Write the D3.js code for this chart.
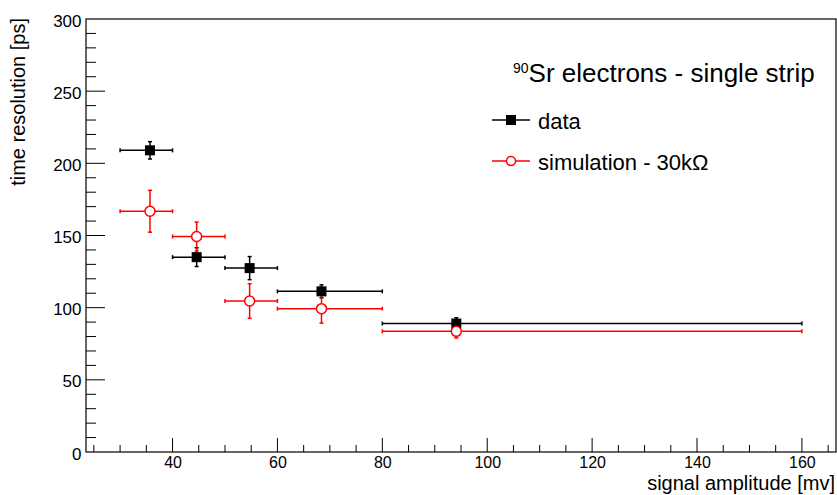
<!DOCTYPE html>
<html>
<head>
<meta charset="utf-8">
<script src="https://cdn.jsdelivr.net/npm/d3@7"></script>
<style>
  body { margin: 0; background: #fff; }
  text { font-family: "Liberation Sans", Arial, sans-serif; }
</style>
</head>
<body>
<svg id="chart"></svg>
<script>
// bins in signal amplitude [mV]
var binLow  = [30, 40, 50, 60, 80];
var binHigh = [40, 50, 60, 80, 160];

// measured data
var dataX   = [35.7, 44.6, 54.7, 68.4, 94.1];
var dataY   = [209, 135, 127.4, 111.3, 89];
var dataErr = [6, 6.5, 8, 4.5, 4];

// simulation - 30kOhm
var simX   = [35.7, 44.6, 54.7, 68.4, 94.1];
var simY   = [166.8, 149.3, 104.6, 99.3, 83.6];
var simErr = [14.5, 10, 12, 10, 4.6];

var xTicks = [40, 60, 80, 100, 120, 140, 160];
var yTicks = [0, 50, 100, 150, 200, 250, 300];

var W = 837, H = 495;
var margin = { top: 19, right: 1, bottom: 43, left: 86 };
var width = W - margin.left - margin.right,
    height = H - margin.top - margin.bottom;

var svg = d3.select('#chart').attr('width', W).attr('height', H);
var g = svg.append('g').attr('transform', 'translate(' + margin.left + ',' + margin.top + ')');

var x = d3.scaleLinear().domain([23.5, 166.5]).range([0, width]);
var y = d3.scaleLinear().domain([0, 300]).range([height, 0]);

// frame
g.append('rect')
    .attr('x', 0).attr('y', 0)
    .attr('width', width).attr('height', height)
    .attr('fill', 'none')
    .attr('stroke', '#000')
    .attr('stroke-width', 1.2);

// ROOT style ticks, drawn inward
var xMinor = d3.range(25, 166, 5);
g.selectAll('.xminor').data(xMinor).enter().append('line')
    .attr('x1', d => x(d)).attr('x2', d => x(d))
    .attr('y1', height).attr('y2', d => d % 20 == 0 ? height - 14 : height - 7)
    .attr('stroke', '#000').attr('stroke-width', 1);

var yMinor = d3.range(10, 300, 10);
g.selectAll('.yminor').data(yMinor).enter().append('line')
    .attr('x1', 0).attr('x2', d => d % 50 == 0 ? 19 : 10)
    .attr('y1', d => y(d)).attr('y2', d => y(d))
    .attr('stroke', '#000').attr('stroke-width', 1);

var xAxis = d3.axisBottom(x).tickValues(xTicks).tickSize(0).tickPadding(4.5);
g.append('g')
    .attr('transform', 'translate(0,' + height + ')')
    .call(xAxis)
    .call(a => a.select('.domain').remove())
    .selectAll('text')
        .attr('font-size', 16)
        .attr('font-family', '"Liberation Sans", Arial, sans-serif')
        .attr('fill', '#000');

var yAxis = d3.axisLeft(y).tickValues(yTicks).tickSize(0).tickPadding(4.5);
g.append('g')
    .call(yAxis)
    .call(a => a.select('.domain').remove())
    .selectAll('text')
        .attr('font-size', 17)
        .attr('dy', '0.42em')
        .attr('font-family', '"Liberation Sans", Arial, sans-serif')
        .attr('fill', '#000');

// axis titles
svg.append('text')
    .attr('x', 835).attr('y', 489.5)
    .attr('text-anchor', 'end')
    .attr('font-size', 20)
    .text('signal amplitude [mv]');

svg.append('text')
    .attr('transform', 'translate(25,18) rotate(-90)')
    .attr('text-anchor', 'end')
    .attr('font-size', 20)
    .text('time resolution [ps]');

// error bars
function drawSeries(xs, ys, errs, color, cls) {
    var pts = xs.map((d, i) => ({ x: d, y: ys[i], e: errs[i], lo: binLow[i], hi: binHigh[i] }));
    var s = g.append('g').attr('class', cls);
    var cap = 2;
    pts.forEach(function (p) {
        var px = x(p.x), py = y(p.y);
        s.append('line').attr('x1', x(p.lo)).attr('x2', x(p.hi)).attr('y1', py).attr('y2', py)
            .attr('stroke', color).attr('stroke-width', 1.5);
        s.append('line').attr('x1', px).attr('x2', px).attr('y1', y(p.y + p.e)).attr('y2', y(p.y - p.e))
            .attr('stroke', color).attr('stroke-width', 1.5);
        s.append('line').attr('x1', x(p.lo)).attr('x2', x(p.lo)).attr('y1', py - cap).attr('y2', py + cap)
            .attr('stroke', color).attr('stroke-width', 1.5);
        s.append('line').attr('x1', x(p.hi)).attr('x2', x(p.hi)).attr('y1', py - cap).attr('y2', py + cap)
            .attr('stroke', color).attr('stroke-width', 1.5);
        s.append('line').attr('x1', px - cap).attr('x2', px + cap).attr('y1', y(p.y + p.e)).attr('y2', y(p.y + p.e))
            .attr('stroke', color).attr('stroke-width', 1.5);
        s.append('line').attr('x1', px - cap).attr('x2', px + cap).attr('y1', y(p.y - p.e)).attr('y2', y(p.y - p.e))
            .attr('stroke', color).attr('stroke-width', 1.5);
    });
    return pts;
}

var dataPts = drawSeries(dataX, dataY, dataErr, '#000', 'data');
var simPts = drawSeries(simX, simY, simErr, '#ff0000', 'sim');

g.selectAll('.sq').data(dataPts).enter().append('rect')
    .attr('x', d => x(d.x) - 5).attr('y', d => y(d.y) - 5)
    .attr('width', 10).attr('height', 10)
    .attr('fill', '#000');

g.selectAll('.circ').data(simPts).enter().append('circle')
    .attr('cx', d => x(d.x)).attr('cy', d => y(d.y))
    .attr('r', 5)
    .attr('fill', '#fff')
    .attr('stroke', '#ff0000')
    .attr('stroke-width', 1.5);

// legend
var title = svg.append('text').attr('x', 513).attr('y', 82).attr('font-size', 26);
title.append('tspan').attr('font-size', 14).attr('dy', -9).text('90');
title.append('tspan').attr('dy', 9).text('Sr electrons - single strip');

var leg = svg.append('g');
leg.append('line').attr('x1', 492).attr('x2', 530).attr('y1', 120).attr('y2', 120)
    .attr('stroke', '#000').attr('stroke-width', 1.5);
leg.append('rect').attr('x', 506).attr('y', 115).attr('width', 10).attr('height', 10).attr('fill', '#000');
leg.append('text').attr('x', 538).attr('y', 129).attr('font-size', 22).text('data');

leg.append('line').attr('x1', 492).attr('x2', 530).attr('y1', 161).attr('y2', 161)
    .attr('stroke', '#ff0000').attr('stroke-width', 1.5);
leg.append('circle').attr('cx', 511).attr('cy', 161).attr('r', 4.5)
    .attr('fill', '#fff').attr('stroke', '#ff0000').attr('stroke-width', 1.5);
leg.append('text').attr('x', 538).attr('y', 170).attr('font-size', 22).text('simulation - 30k\u03A9');
</script>
</body>
</html>
